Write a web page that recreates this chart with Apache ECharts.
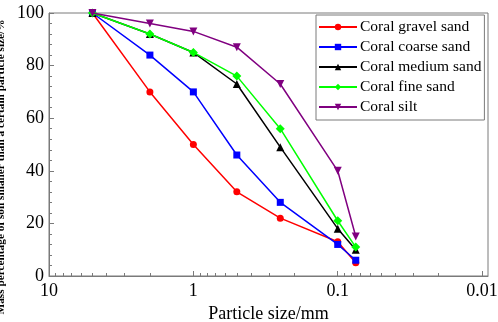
<!DOCTYPE html>
<html lang="en">
<head>
<meta charset="UTF-8">
<style>
    html, body { height: 100%; margin: 0; background: #fff; }
</style>
</head>
<body>
<div id="chart" style="width:498px;height:322px;"></div>
<script src="https://cdn.jsdelivr.net/npm/echarts@6/dist/echarts.min.js"></script>
<script>
    // particle sizes (mm) and passing percentages
    var sizes = [5, 2, 1, 0.5, 0.25, 0.1, 0.075];
    var gravelSand = [100, 70, 50, 32, 22, 13, 5];
    var coarseSand = [100, 84, 70, 46, 28, 12, 6];
    var mediumSand = [100, 92, 85, 73, 49, 18, 10];
    var fineSand = [100, 92, 85, 76, 56, 21, 11];
    var silt = [100, 96, 93, 87, 73, 40, 15];

    var xTicks = [10, 1, 0.1, 0.01];
    var xTickLabels = ['10', '1', '0.1', '0.01'];

    var names = ['Coral gravel sand', 'Coral coarse sand', 'Coral medium sand', 'Coral fine sand', 'Coral silt'];
    var colors = ['#ff0000', '#0000ff', '#000000', '#00ff00', '#800080'];
    var symbols = ['circle', 'rect', 'triangle', 'diamond', 'triangle'];
    var symbolSizes = [7, 7, 8, 9, 8];
    var allData = [gravelSand, coarseSand, mediumSand, fineSand, silt];

    // minor log ticks 2..9 in each decade
    var minorTicks = [];
    [1, 0.1, 0.01].forEach(function (d) {
        for (var k = 2; k <= 9; k++) minorTicks.push(+(k * d).toPrecision(3));
    });

    var serif = '"Liberation Serif", "DejaVu Serif", serif';
    var axisGray = '#7a7a7a';

    var series = [];
    for (var s = 0; s < names.length; s++) {
        series.push({
            name: names[s],
            type: 'line',
            data: sizes.map(function (d, i) { return [d, allData[s][i]]; }),
            symbol: symbols[s],
            symbolSize: symbolSizes[s],
            symbolRotate: s === 4 ? 180 : 0,
            lineStyle: { width: 1.5, color: colors[s] },
            itemStyle: { color: colors[s] },
            z: 2 + s
        });
    }

    var myChart = echarts.init(document.getElementById('chart'));
    myChart.setOption({
        animation: false,
        grid: {
            left: 49, right: 10, top: 13, bottom: 46,
            outerBoundsMode: 'none',
            containLabel: false,
            show: true, borderColor: axisGray, borderWidth: 1
        },
        legend: {
            orient: 'vertical',
            left: 316, top: 15,
            padding: [4, 3, 5, 2],
            itemWidth: 38, itemHeight: 8, itemGap: 4,
            backgroundColor: '#fff',
            borderColor: axisGray, borderWidth: 1, borderRadius: 0,
            textStyle: { fontFamily: serif, fontSize: 15.5, color: '#000', padding: [0, 0, 0, -2] },
            data: names
        },
        xAxis: [
            {
                type: 'log',
                inverse: true,
                min: 0.0091, max: 10,
                name: 'Particle size/mm',
                nameLocation: 'middle',
                nameGap: 24,
                nameTextStyle: { fontFamily: serif, fontSize: 18, color: '#000' },
                axisLine: { lineStyle: { color: axisGray, width: 1 } },
                axisTick: { inside: true, length: 5, customValues: xTicks, lineStyle: { color: axisGray } },
                axisLabel: {
                    customValues: xTicks,
                    fontFamily: serif, fontSize: 18, color: '#000', margin: 6,
                    formatter: function (v) {
                        for (var i = 0; i < xTicks.length; i++) {
                            if (Math.abs(v - xTicks[i]) < xTicks[i] * 1e-6) return xTickLabels[i];
                        }
                        return '';
                    }
                },
                splitLine: { show: false }
            },
            {
                type: 'log',
                inverse: true,
                min: 0.0091, max: 10,
                position: 'bottom',
                axisLine: { show: false },
                axisTick: { inside: true, length: 3, customValues: minorTicks, lineStyle: { color: axisGray } },
                axisLabel: { show: false },
                splitLine: { show: false }
            }
        ],
        yAxis: {
            type: 'value',
            min: 0, max: 100, interval: 20,
            name: 'Mass percentage of soil smaller than a certain particle size/%',
            nameLocation: 'middle',
            nameGap: 36,
            nameTextStyle: { fontFamily: serif, fontSize: 11.3, fontWeight: 'bold', color: '#000', padding: [0, 45, 0, 0] },
            axisLine: { show: true, lineStyle: { color: axisGray, width: 1 } },
            axisTick: { inside: true, length: 5, lineStyle: { color: axisGray } },
            minorTick: { show: true, splitNumber: 5, length: 3, lineStyle: { color: axisGray } },
            axisLabel: { fontFamily: serif, fontSize: 18, color: '#000', margin: 5 },
            splitLine: { show: false }
        },
        series: series
    });
</script>
</body>
</html>
